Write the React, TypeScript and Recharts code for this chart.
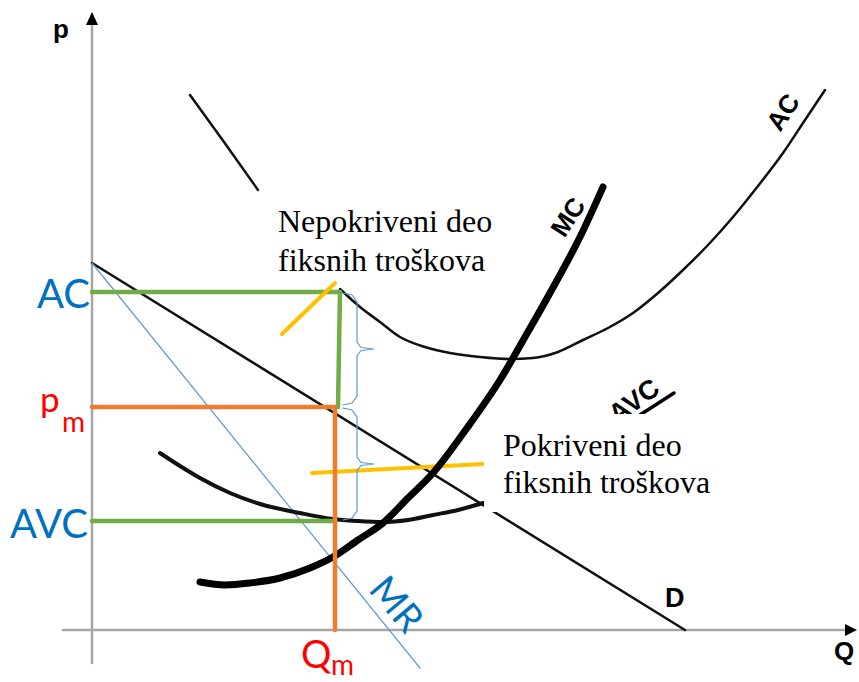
import { ComposedChart, Line, ReferenceDot, XAxis, YAxis } from 'recharts'

type Pt = { x: number; y: number }

const W = 859
const H = 682

// Q on the horizontal axis, p on the vertical one
const demand: Pt[] = [
  { x: 0, y: 36.7 },
  { x: 59.3, y: 0 },
]
const marginalRevenue: Pt[] = [
  { x: 0, y: 36.7 },
  { x: 32.8, y: -3.8 },
]

const marginalCost: Pt[] = [
  { x: 10.8, y: 4.8 },
  { x: 13.3, y: 4.5 },
  { x: 15.8, y: 4.7 },
  { x: 18.8, y: 5.2 },
  { x: 21.8, y: 6.2 },
  { x: 24.1, y: 7.3 },
  { x: 26.6, y: 9.0 },
  { x: 29.1, y: 10.7 },
  { x: 31.6, y: 13.2 },
  { x: 34.1, y: 15.7 },
  { x: 37.5, y: 20.2 },
  { x: 40.8, y: 25.0 },
  { x: 43.3, y: 29.3 },
  { x: 45.8, y: 33.7 },
  { x: 48.8, y: 39.3 },
  { x: 51.1, y: 44.3 },
]

// AC is broken where the first note sits over it
const avgCostLeft: Pt[] = [
  { x: 9.8, y: 53.5 },
  { x: 13.2, y: 48.8 },
  { x: 16.6, y: 44.0 },
]
const avgCostRight: Pt[] = [
  { x: 24.8, y: 34.1 },
  { x: 26.8, y: 32.3 },
  { x: 28.8, y: 30.8 },
  { x: 30.8, y: 29.3 },
  { x: 33.3, y: 28.3 },
  { x: 35.8, y: 27.7 },
  { x: 38.8, y: 27.3 },
  { x: 41.8, y: 27.1 },
  { x: 44.1, y: 27.2 },
  { x: 46.6, y: 27.8 },
  { x: 49.1, y: 29.0 },
  { x: 51.6, y: 30.2 },
  { x: 54.1, y: 31.7 },
  { x: 56.6, y: 33.7 },
  { x: 59.1, y: 36.0 },
  { x: 61.6, y: 38.5 },
  { x: 64.1, y: 41.3 },
  { x: 66.6, y: 44.4 },
  { x: 69.1, y: 47.7 },
  { x: 71.3, y: 51.0 },
  { x: 73.3, y: 54.0 },
]

const avgVariableCost: Pt[] = [
  { x: 6.8, y: 17.7 },
  { x: 8.8, y: 16.4 },
  { x: 10.8, y: 15.2 },
  { x: 13.8, y: 13.7 },
  { x: 16.8, y: 12.6 },
  { x: 20.8, y: 11.7 },
  { x: 24.1, y: 11.1 },
  { x: 26.6, y: 10.9 },
  { x: 29.1, y: 10.8 },
  { x: 31.6, y: 11.0 },
  { x: 34.1, y: 11.5 },
  { x: 36.6, y: 12.0 },
  { x: 39.1, y: 12.7 },
]

// monopoly point and cost levels at Qm
const qM = 24.3
const pM = 22.3
const acLevel = 33.8
const acEdgeX = 24.8
const avcLevel = 10.9

// pointer strokes for the two notes
const pointerUncovered: Pt[] = [
  { x: 19.0, y: 29.6 },
  { x: 24.3, y: 34.7 },
]
const pointerCovered: Pt[] = [
  { x: 22.0, y: 15.7 },
  { x: 39.1, y: 16.6 },
]

const braces = [
  { x: 25.1, top: 33.7, bottom: 22.5 },
  { x: 25.1, top: 22.2, bottom: 11.0 },
]

const xAxisLine: Pt[] = [
  { x: -2.9, y: 0 },
  { x: 75.4, y: 0 },
]
const yAxisLine: Pt[] = [
  { x: 0, y: -3.3 },
  { x: 0, y: 60.6 },
]

const GREEN = '#70AD47'
const ORANGE = '#ED7D31'
const YELLOW = '#FFC000'
const LIGHT_BLUE = '#5B9BD5'
const BLUE = '#0070C0'
const RED = '#FF0000'
const AXIS = '#A6A6A6'

const SANS = 'Liberation Sans, Arial, sans-serif'
const LABEL_FONT = 'Lato, Open Sans, sans-serif'
const SERIF = 'Liberation Serif, DejaVu Serif, serif'

function braceShape(x: number, top: number, bottom: number): Pt[] {
  const mid = (top + bottom) / 2
  const r = x + 1.4
  const t = x + 3.1
  return [
    { x, y: top },
    { x: r - 0.5, y: top - 0.2 },
    { x: r, y: top - 0.9 },
    { x: r, y: mid + 0.7 },
    { x: r + 0.4, y: mid + 0.15 },
    { x: t, y: mid },
    { x: r + 0.4, y: mid - 0.15 },
    { x: r, y: mid - 0.7 },
    { x: r, y: bottom + 0.9 },
    { x: r - 0.5, y: bottom + 0.2 },
    { x, y: bottom },
  ]
}

const ArrowUp = (props: any) => {
  const { cx, cy } = props
  return <polygon points={`${cx},${cy} ${cx - 6},${cy + 13} ${cx + 6},${cy + 13}`} fill="#000" />
}

const ArrowRight = (props: any) => {
  const { cx, cy } = props
  return <polygon points={`${cx},${cy} ${cx - 12},${cy - 6} ${cx - 12},${cy + 6}`} fill="#000" />
}

function seg(data: Pt[], stroke: string, width: number, key: string, type: 'linear' | 'monotone' = 'linear') {
  return (
    <Line
      key={key}
      data={data}
      dataKey="y"
      type={type}
      stroke={stroke}
      strokeWidth={width}
      strokeLinecap="round"
      dot={false}
      activeDot={false}
      isAnimationActive={false}
    />
  )
}

export default function App() {
  return (
    <div style={{ position: 'absolute', left: 0, top: 0, width: W, height: H, background: '#fff' }}>
      <ComposedChart width={W} height={H} margin={{ top: 0, right: 0, bottom: 0, left: 0 }}>
        <XAxis type="number" dataKey="x" domain={[-9.2, 76.7]} hide allowDataOverflow />
        <YAxis type="number" dataKey="y" domain={[-5.2, 63]} hide allowDataOverflow />

        {seg(xAxisLine, AXIS, 2.5, 'xaxis')}
        {seg(yAxisLine, AXIS, 2.5, 'yaxis')}

        {seg(demand, '#111', 2.5, 'd')}
        {seg(marginalRevenue, LIGHT_BLUE, 1.2, 'mr')}
        {seg(avgCostLeft, '#111', 2.5, 'ac1', 'monotone')}
        {seg(avgCostRight, '#111', 2.5, 'ac2', 'monotone')}
        {seg(avgVariableCost, '#111', 4, 'avc', 'monotone')}
        {seg(pointerCovered, YELLOW, 4, 'y2')}
        {seg(marginalCost, '#000', 7, 'mc', 'monotone')}

        {seg([{ x: 0, y: acLevel }, { x: acEdgeX, y: acLevel }], GREEN, 4.5, 'gac')}
        {seg([{ x: acEdgeX, y: acLevel }, { x: acEdgeX - 0.2, y: pM }], GREEN, 4.5, 'gv')}
        {seg([{ x: 0, y: avcLevel }, { x: qM, y: avcLevel }], GREEN, 4.5, 'gavc')}
        {seg([{ x: 0, y: pM }, { x: qM, y: pM }], ORANGE, 4.5, 'op')}
        {seg([{ x: qM, y: pM }, { x: qM, y: 0 }], ORANGE, 4.5, 'oq')}
        {seg(pointerUncovered, YELLOW, 4, 'y1')}

        {braces.map((b, i) => seg(braceShape(b.x, b.top, b.bottom), LIGHT_BLUE, 1.2, `brace${i}`))}

        <ReferenceDot x={0} y={61.8} r={0} shape={ArrowUp} />
        <ReferenceDot x={76.5} y={0} r={0} shape={ArrowRight} />
      </ComposedChart>

      <svg width={W} height={H} style={{ position: 'absolute', left: 0, top: 0 }}>
        <text x={53} y={38} style={{ fontFamily: SANS }} fontWeight="bold" fontSize={26}>p</text>
        <text x={834} y={660} style={{ fontFamily: SANS }} fontWeight="bold" fontSize={26}>Q</text>
        <text x={665} y={607} style={{ fontFamily: SANS }} fontWeight="bold" fontSize={27}>D</text>
        <text transform="translate(568,217) rotate(-57)" textAnchor="middle" dominantBaseline="central" style={{ fontFamily: SANS }} fontWeight="bold" fontSize={26}>MC</text>
        <text transform="translate(783,112) rotate(-57)" textAnchor="middle" dominantBaseline="central" style={{ fontFamily: SANS }} fontWeight="bold" fontSize={26}>AC</text>
        <text transform="translate(634,401) rotate(-36)" textAnchor="middle" dominantBaseline="central" style={{ fontFamily: SANS }} fontWeight="bold" fontSize={27}>AVC</text>
        <line x1={612} y1={433} x2={674} y2={393} stroke="#000" strokeWidth={3.5} strokeLinecap="round" />

        <text x={90} y={308} textAnchor="end" style={{ fontFamily: LABEL_FONT }} fontSize={40} fill={BLUE}>AC</text>
        <text x={88} y={538} textAnchor="end" style={{ fontFamily: LABEL_FONT }} fontSize={40} fill={BLUE}>AVC</text>
        <text x={40} y={412} style={{ fontFamily: LABEL_FONT }} fontSize={35} fill={RED}>p</text>
        <text x={62} y={432} style={{ fontFamily: LABEL_FONT }} fontSize={28} fill={RED}>m</text>
        <text x={301} y={668} style={{ fontFamily: LABEL_FONT }} fontSize={38} fill={RED}>Q</text>
        <text x={331} y={675} style={{ fontFamily: LABEL_FONT }} fontSize={28} fill={RED}>m</text>
        <text transform="translate(398,603) rotate(50)" textAnchor="middle" dominantBaseline="central" style={{ fontFamily: LABEL_FONT }} fontSize={38} fill={BLUE}>MR</text>

        <text x={278} y={232} style={{ fontFamily: SERIF }} fontSize={32}>Nepokriveni deo</text>
        <text x={278} y={271} style={{ fontFamily: SERIF }} fontSize={32}>fiksnih troškova</text>

        <rect x={484} y={414} width={276} height={98} fill="#fff" />
        <text x={503} y={456} style={{ fontFamily: SERIF }} fontSize={32}>Pokriveni deo</text>
        <text x={503} y={493} style={{ fontFamily: SERIF }} fontSize={32}>fiksnih troškova</text>
      </svg>
    </div>
  )
}
